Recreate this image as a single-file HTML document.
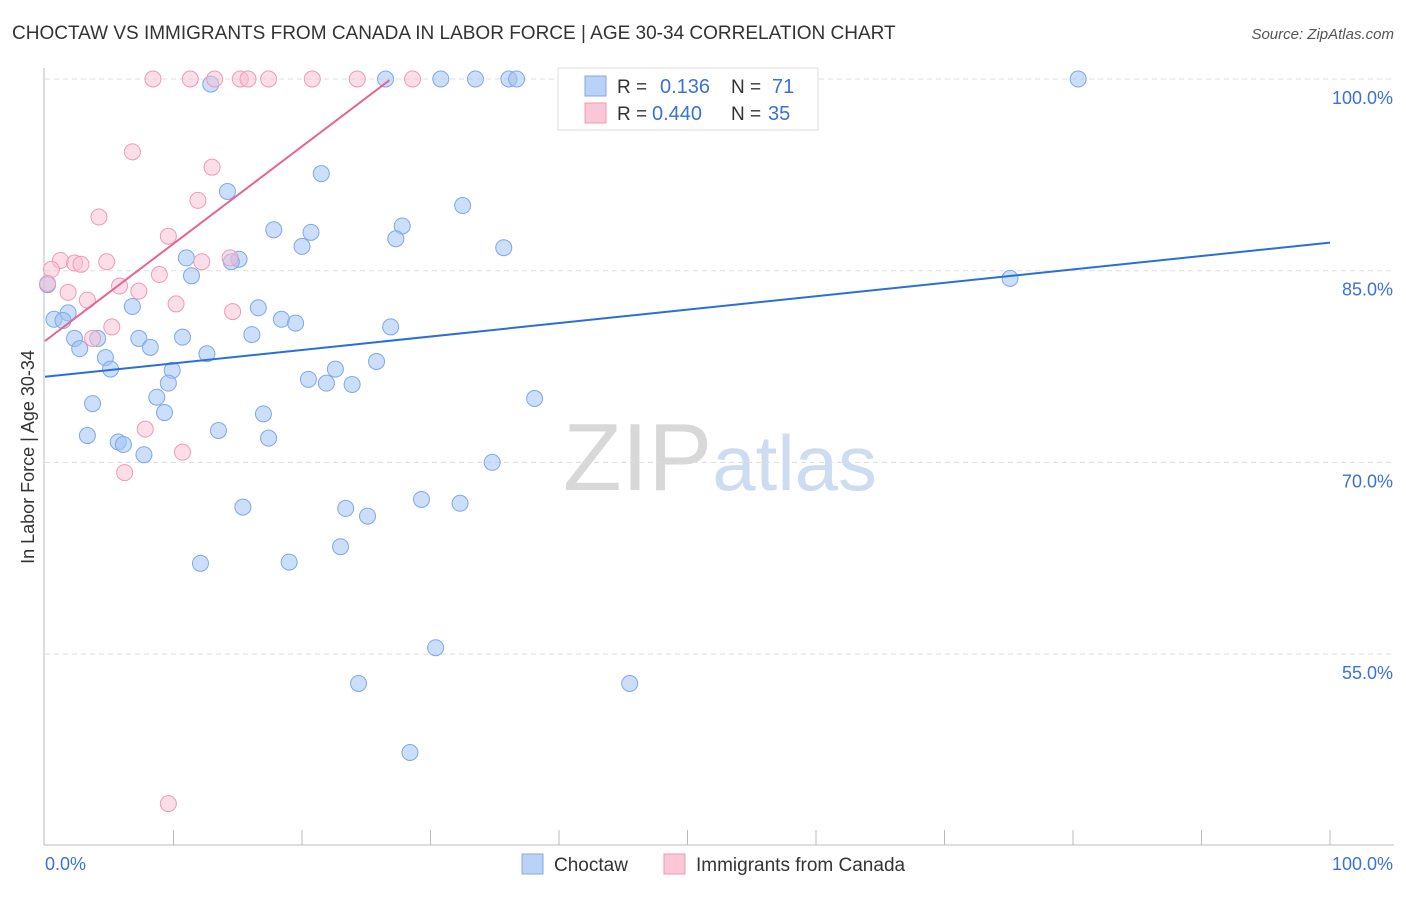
<!DOCTYPE html>
<html><head><meta charset="utf-8"><style>
body{margin:0;background:#fff;font-family:"Liberation Sans",sans-serif;}
svg text{font-family:"Liberation Sans",sans-serif;}
</style></head><body>
<svg id="chart" width="1406" height="892" viewBox="0 0 1406 892" xmlns="http://www.w3.org/2000/svg">
<text x="12" y="39" font-size="19" fill="#333">CHOCTAW VS IMMIGRANTS FROM CANADA IN LABOR FORCE | AGE 30-34 CORRELATION CHART</text>
<text x="1394" y="39" font-size="15" fill="#555" text-anchor="end" font-style="italic">Source: ZipAtlas.com</text>
<text x="720" y="490" font-size="96" text-anchor="middle" fill="#ddd" font-family="Liberation Serif"><tspan fill="#d8d8d8">ZIP</tspan><tspan fill="#cddcf0" font-family="Liberation Sans" font-size="78">atlas</tspan></text>
<g id="grid"></g>
<line x1="44" y1="68" x2="44" y2="845" stroke="#bbb"/>
<line x1="44" y1="845" x2="1394" y2="845" stroke="#bbb"/>
<text transform="translate(34,457) rotate(-90)" font-size="18" fill="#333" text-anchor="middle">In Labor Force | Age 30-34</text>
<text x="45" y="870" font-size="18" fill="#3a72d8">0.0%</text>
<text x="1393" y="870" font-size="18" fill="#3a72d8" text-anchor="end">100.0%</text>
<g id="marks"></g>
<g>
<rect x="558" y="68" width="260" height="62" fill="#fff" stroke="#ddd"/>
<rect x="585" y="76" width="21" height="20" fill="#b9d2f5" stroke="#7fa8e8"/>
<rect x="585" y="103" width="21" height="20" fill="#fac7d7" stroke="#f09ab6"/>
<text x="617" y="93" font-size="19" fill="#333">R =</text><text x="660" y="93" font-size="20" fill="#3a72d8">0.136</text>
<text x="731" y="93" font-size="19" fill="#333">N =</text><text x="772" y="93" font-size="20" fill="#3a72d8">71</text>
<text x="617" y="120" font-size="19" fill="#333">R =</text><text x="652" y="120" font-size="20" fill="#3a72d8">0.440</text>
<text x="731" y="120" font-size="19" fill="#333">N =</text><text x="768" y="120" font-size="20" fill="#3a72d8">35</text>
</g>
<g>
<rect x="522" y="854" width="21" height="20" fill="#b9d2f5" stroke="#7fa8e8"/>
<text x="554" y="871" font-size="19" fill="#333">Choctaw</text>
<rect x="664" y="854" width="21" height="20" fill="#fac7d7" stroke="#f09ab6"/>
<text x="696" y="871" font-size="19" fill="#333">Immigrants from Canada</text>
</g>
</svg>
<script>
const yTicks=[100,85,70,55];
const yTickLabels=["100.0%","85.0%","70.0%","55.0%"];
const xTicks=[10,20,30,40,50,60,70,80,90,100];
const blueX=[12.9,26.5,30.8,33.5,36.1,36.7,80.4,21.5,14.2,32.5,17.8,20.7,27.8,27.3,20.0,35.7,11.0,15.1,14.5,11.4,75.1,0.7,1.8,1.4,6.8,16.6,18.4,19.5,26.9,2.3,4.1,7.3,10.7,16.1,2.7,8.2,4.7,12.6,5.1,9.9,25.8,22.6,9.6,20.5,21.9,23.9,8.7,3.7,38.1,9.3,17.0,13.5,3.3,17.4,5.7,6.1,7.7,34.8,29.3,32.3,15.4,23.4,25.1,23.0,12.1,19.0,30.4,24.4,45.5,28.4,0.2];
const blueY=[99.6,100,100,100,100,100,100,92.6,91.2,90.1,88.2,88.0,88.5,87.5,86.9,86.8,86.0,85.9,85.7,84.6,84.4,81.2,81.7,81.1,82.2,82.1,81.2,80.9,80.6,79.7,79.7,79.7,79.8,80.0,78.9,79.0,78.2,78.5,77.3,77.2,77.9,77.3,76.2,76.5,76.2,76.1,75.1,74.6,75.0,73.9,73.8,72.5,72.1,71.9,71.6,71.4,70.6,70.0,67.1,66.8,66.5,66.4,65.8,63.4,62.1,62.2,55.5,52.7,52.7,47.3,83.9];
const pinkX=[8.4,11.3,13.2,15.2,15.8,17.4,20.8,24.3,28.6,6.8,13.0,4.2,11.9,9.6,1.2,2.3,2.8,4.8,14.4,12.2,8.9,0.5,0.2,1.8,3.3,5.8,7.3,10.2,14.6,5.2,3.7,7.8,10.7,6.2,9.6];
const pinkY=[100,100,100,100,100,100,100,100,100,94.3,93.1,89.2,90.5,87.7,85.8,85.6,85.5,85.7,86.0,85.7,84.7,85.1,84.0,83.3,82.7,83.8,83.4,82.4,81.8,80.6,79.7,72.6,70.8,69.2,43.3];
const blueLine=[76.7,87.2];
const pinkLine=[79.5,99.9,26.8];
const NS="http://www.w3.org/2000/svg";
const sx=v=>45+v*12.85, sy=v=>79+(100-v)*12.78;
const grid=document.getElementById('grid'), marks=document.getElementById('marks');
function mk(tag,attrs,parent){const e=document.createElementNS(NS,tag);for(const k in attrs)e.setAttribute(k,attrs[k]);parent.appendChild(e);return e;}
yTicks.forEach((t,i)=>{
 const l=mk('line',{x1:45,x2:1394,y1:sy(t),y2:sy(t),stroke:'#ddd','stroke-dasharray':'5,4'},grid);
 
 
 const tx=mk('text',{x:1393,y:sy(t)+25,'font-size':18,fill:'#3a72d8','text-anchor':'end'},grid);
 tx.textContent=yTickLabels[i];
 
 
});
xTicks.forEach(t=>{
 const l=mk('line',{x1:sx(t),x2:sx(t),y1:830,y2:845,stroke:'#bbb'},grid);
 
 
});
blueX.forEach((x,i)=>{
 const c=mk('circle',{cx:sx(x),cy:sy(blueY[i]),r:8,fill:'rgba(160,195,245,0.55)',stroke:'#7fa8e8','stroke-width':1},marks);
 
 
});
pinkX.forEach((x,i)=>{
 const c=mk('circle',{cx:sx(x),cy:sy(pinkY[i]),r:8,fill:'rgba(250,190,210,0.5)',stroke:'#f09ab6','stroke-width':1},marks);
 
 
});
const bl=mk('line',{x1:sx(0),y1:sy(blueLine[0]),x2:sx(100),y2:sy(blueLine[1]),stroke:'#2a6fd6','stroke-width':2},marks);


const pl=mk('line',{x1:sx(0),y1:sy(pinkLine[0]),x2:sx(pinkLine[2]),y2:sy(pinkLine[1]),stroke:'#e8638f','stroke-width':2},marks);


</script>
</body></html>
